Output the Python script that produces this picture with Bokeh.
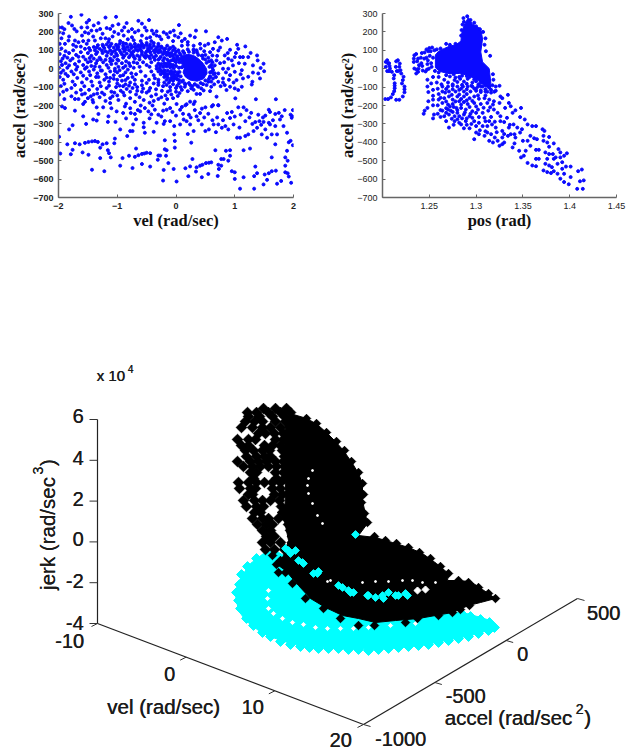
from bokeh.plotting import figure
from bokeh.layouts import column, row
from bokeh.models import Range1d, FixedTicker
from bokeh.core.properties import value
from bokeh.embed import file_html
from bokeh.resources import INLINE

# ---- panel 1: (vel, accel)
upper_sparse = [(-1.79,282),(-1.61,293),(-1.83,248),(-1.99,224),(-1.94,224),(-1.99,198),(-1.92,192),(-1.73,216),(-1.69,203),(-1.61,224),
 (-1.52,251),(-1.48,264),(-1.55,198),(-1.49,192),(-1.51,224),(-1.44,207),(-1.35,207),(-1.32,248),(-1.29,216),(-1.20,278),(-1.18,221),
 (-1.12,216),(-1.08,233),(-1.02,282),(-0.98,242),(-0.84,248),(-0.92,207),(-0.81,203),(-0.70,198),(-0.64,260),(-0.64,207),(-0.53,224),
 (-0.46,264),(-0.50,207),(-0.41,207),(-0.33,203),(-0.33,180),(-0.21,198),(-0.10,198),(-0.04,207),(-1.82,175),(-1.83,153),(-1.89,135),
 (-1.72,153),(-1.66,144),(-1.49,153),(-1.38,153),(-1.41,175),(-1.08,175),(-0.98,189),(-0.89,180),(-0.75,171),(-0.58,180),(-0.44,171),
 (-0.13,171),(-0.25,160),(-0.05,150),(0.05,237),(0.34,207),(0.51,203),(0.08,192),(0.04,171),(0.15,162),(0.24,180),(0.32,171),(-0.72,155),
 (-0.95,150),(-1.2,165),(-1.6,180),(-1.95,165),(-0.42,150),(-0.6,150),(-1.75,130),(-1.9,215),(-1.77,235),(-1.4,235),(-1.25,190),(-1.05,200),
 (-0.88,225),(-0.75,215),(-0.58,245),(-0.38,190),(-0.28,175),(-0.16,188),(-0.02,180),(0.1,150),(0.2,145),(-1.58,150),(-1.28,165),(-1.14,160),
 (-0.82,160),(-0.5,165),(-1.98,135),(-1.7,120),(-1.52,135),(-1.62,120)]
right_cloud = [(0.72,171),(0.87,162),(1.04,130),(1.18,121),(1.27,86),(1.38,72),(1.39,45),(1.49,27),(1.44,4),(1.50,-14),(1.40,-26),(1.43,-53),
 (1.31,-21),(1.30,-71),(1.29,-86),(1.12,-98),(1.06,-116),(1.0,-107),(0.86,-116),(1.01,-161),(1.36,-166),(1.70,-166),(0.69,-152),(0.63,-198),
 (0.72,-198),(0.41,-137),(0.35,-137),(0.24,-179),(0.32,-179),(0.18,-193),(0.55,135),(0.66,144),(0.78,153),(0.92,103),(1.06,108),(1.14,63),
 (1.23,63),(1.31,18),(1.17,27),(1.09,63),(1.0,63),(0.97,18),(0.89,54),(0.83,72),(0.72,99),(0.63,108),(0.58,90),(0.69,45),(0.80,0),(0.89,0),
 (1.0,-17),(1.12,-8),(1.23,-44),(1.14,-53),(1.03,-62),(0.92,-35),(0.80,-53),(0.72,-71),(0.63,-8),(0.63,-53),(0.72,-26),(0.83,-89),(0.92,-98),
 (0.60,-98),(0.52,-89),(0.43,-107),(0.38,-98),(0.26,-107),(0.15,-98),(0.58,-44),(0.55,-71),(0.66,18),(0.60,45),(0.49,126),(0.41,135),
 (0.3,125),(0.2,130),(0.1,125),(0.75,30),(0.95,45),(1.1,-30),(0.98,-75),(0.85,-20),(0.7,70),(0.6,20),(0.65,-85),(0.8,-75),(0.48,95),(0.55,60),
 (0.75,115),(0.88,85),(1.02,85),(0.82,35),(0.9,-60),(1.07,30),(0.68,-45),(0.76,-95),(0.47,-118),(0.58,-122),(0.3,-115),(0.2,-122),(0.1,-115),
 (0.06,-132),(0.0,-125),(-0.1,-118),(0.42,110),(0.35,100),(0.3,105),(0.44,70),(0.5,75),(0.62,72),(0.58,-20),(0.6,-70),(0.66,-25),(0.62,35)]
top_arc = [(-1.55,108),(-1.48,112),(-1.4,118),(-1.33,128),(-1.25,130),(-1.18,132),(-1.1,135),(-1.02,130),(-0.96,135),(-0.9,125),(-0.85,135),
 (-0.78,132),(-0.7,135),(-0.64,128),(-0.58,135),(-0.5,128),(-0.44,132),(-0.38,125),(-0.3,122),(-0.24,115),(-0.18,110),(-0.12,105),(-0.05,100),
 (0.0,92),(-1.38,100),(-1.3,108),(-1.22,112),(-1.14,118),(-1.06,115),(-0.98,118),(-0.9,110),(-0.82,118),(-0.76,112),(-0.7,118),(-0.62,110),
 (-0.55,115),(-0.48,110),(-0.42,112),(-0.35,105),(-0.28,105),(-0.2,95),(-0.14,90),(-0.08,85),(-0.02,78),(-1.2,95),(-1.12,100),(-1.04,98),
 (-0.96,100),(-0.88,95),(-0.8,100),(-0.72,95),(-0.65,98),(-0.58,92),(-0.5,95),(-0.44,90),(-0.36,88),(-0.3,88),(-0.22,80),(-0.16,75),(-0.1,68),
 (-0.04,60),(-1.1,80),(-1.02,82),(-0.92,78),(-0.84,82),(-0.74,78),(-0.66,72),(-0.58,78),(-0.5,72),(-0.42,75),(-0.34,70),(-0.26,65),(-0.2,58),
 (-0.9,60),(-0.8,62),(-0.7,55),(-0.62,50),(-0.52,60),(-0.44,55),(-0.36,48),(-0.3,50),(-0.15,50),(-0.08,45),(0.0,35),(-0.25,120),(-0.15,125),(-0.05,120),
 (-0.6,122),(-0.9,140),(-1.15,145),(-0.5,140),(-0.38,140),(-0.3,135),(-1.46,100),(-1.34,90),(-1.26,98),(-1.16,88),(-1.08,92),(-1.0,108),(-0.94,88),
 (-0.86,105),(-0.76,88),(-0.68,105),(-0.6,102),(-0.52,85),(-0.46,100),(-0.38,97),(-0.32,98),(-0.26,92),(-0.18,88),(-0.12,80),(-0.06,72),(0.02,68),
 (-0.02,110),(0.04,100),(0.06,85),(-0.1,112),(-0.2,105),(-0.33,115),(-0.45,120),(-0.55,125),(-0.66,120),(-0.75,122),(-0.88,115),(-1.0,122),(-1.12,125),
 (-1.24,122),(-1.35,115),(-0.72,65),(-0.62,65),(-0.54,68),(-0.46,65),(-0.38,62),(-0.28,55),(-0.22,45),(-0.12,40),(-0.05,48),(-1.0,72),(-0.88,70),(-0.78,72)]
left_cloud = [(-1.95,110),(-1.88,95),(-1.98,80),(-1.9,70),(-1.82,85),(-1.75,100),(-1.7,75),(-1.62,90),(-1.58,65),(-1.5,85),(-1.44,70),(-1.36,80),
 (-1.3,60),(-1.25,85),(-1.18,70),(-1.12,55),(-1.05,65),(-0.98,45),(-0.92,30),(-0.85,40),(-1.96,40),(-1.88,30),(-1.8,45),(-1.72,25),(-1.65,40),
 (-1.58,20),(-1.5,35),(-1.44,15),(-1.36,30),(-1.3,10),(-1.24,35),(-1.18,20),(-1.1,25),(-1.04,0),(-0.98,10),(-1.99,5),(-1.92,-10),(-1.85,5),
 (-1.78,-15),(-1.7,-5),(-1.62,-20),(-1.55,0),(-1.48,-15),(-1.4,-5),(-1.34,-25),(-1.26,-10),(-1.2,-30),(-1.12,-15),(-1.06,-35),(-1.0,-20),
 (-0.95,-40),(-1.98,-45),(-1.92,-60),(-1.84,-40),(-1.76,-70),(-1.68,-50),(-1.6,-75),(-1.52,-55),(-1.44,-70),(-1.36,-45),(-1.3,-75),(-1.22,-60),
 (-1.14,-70),(-1.06,-55),(-1.0,-80),(-0.92,-65),(-0.86,-85),(-0.78,-75),(-1.96,-95),(-1.86,-115),(-1.78,-105),(-1.7,-130),(-1.62,-115),(-1.55,-135),
 (-1.48,-115),(-1.4,-140),(-1.34,-110),(-1.26,-130),(-1.18,-105),(-1.1,-125),(-1.02,-100),(-0.94,-120),(-0.84,-110),(-0.74,-105),(-0.66,-100),
 (-1.99,-140),(-1.9,-165),(-1.78,-150),(-1.66,-165),(-1.55,-180),(-1.42,-170),(-1.3,-155),(-1.2,-175),(-1.08,-150),(-0.98,-170),(-0.88,-145),
 (-0.78,-160),(-0.68,-140),(-0.58,-125),(-0.5,-130),(-0.42,-150),(-0.34,-140),(-0.25,-155),(-0.15,-165),(-0.05,-160),(-0.7,-180),(-0.55,-170),
 (-0.38,-175),(-0.85,-190),(-1.45,-150),(-1.6,-140),(-1.05,-130),(-0.9,-95),(-1.45,40),(-1.28,50),(-1.12,40),(-1.4,55),(-1.0,50),(-0.9,5),(-0.86,-20),
 (-1.93,55),(-1.85,60),(-1.76,55),(-1.66,65),(-1.54,50),(-1.47,58),(-1.34,45),(-1.2,48),(-1.08,45),(-1.02,28),(-1.15,5),(-1.28,-10),(-1.38,12),(-1.52,8),
 (-1.68,10),(-1.82,18),(-1.94,20),(-1.96,-22),(-1.88,-28),(-1.74,-30),(-1.58,-38),(-1.46,-35),(-1.32,-45),(-1.18,-48),(-1.04,-12),(-0.96,-8),(-0.9,-35),
 (-0.82,-50),(-0.74,-45),(-0.7,-60),(-1.9,-82),(-1.72,-88),(-1.56,-95),(-1.42,-92),(-1.28,-95),(-1.14,-92),(-1.0,-60),(-1.12,-50),(-0.86,-62),(-0.96,-92),
 (-0.8,-92),(-0.7,-85),(-0.58,-90),(-0.5,-78),(-0.44,-105),(-0.34,-112),(-0.24,-120),(-0.14,-125),(-0.56,-108),(-0.66,-120),(-0.78,-125),(-0.9,-130),
 (-1.22,-140),(-1.34,-135),(-1.5,-160),(-1.72,-165),(-1.92,-125),(-1.12,-160),(-1.0,-145),(-0.62,-155),(-0.46,-120),(-0.3,-165),(-0.45,-185),(-0.18,-145),
 (-0.08,-140),(0.03,-148),(-0.72,35),(-0.78,15),(-0.82,-5),(-0.76,-25),(-0.68,-30),(-0.72,5),(-0.86,15),(-0.8,30)]
inner_ring = [(-0.66,30),(-0.62,10),(-0.6,-15),(-0.52,-40),(-0.5,20),(-0.46,-60),(-0.38,-80),(-0.3,-88),(-0.22,-95),(-0.1,-100),(0.0,-105),(-0.05,-85),
 (-0.12,-75),(-0.2,-75),(-0.56,35),(-0.42,35),(-0.45,10),(-0.42,-15),(-0.38,-35),(-0.3,-60),(-0.05,-65),(0.05,-80),(0.1,-70),(-0.58,-65),(-0.3,-75),(-0.16,-88),(-0.36,-52),(0.02,-92),(0.08,-100),(0.16,-85),(0.24,-88)]
inner_blob = [(-0.33,15),(-0.3,28),(-0.25,25),(-0.2,30),(-0.15,28),(-0.1,25),(-0.05,20),(0.0,15),(0.05,5),(-0.33,0),(-0.28,5),(-0.22,10),(-0.16,12),
 (-0.1,8),(-0.04,2),(-0.3,-15),(-0.25,-12),(-0.2,-8),(-0.14,-10),(-0.08,-12),(-0.02,-15),(0.03,-20),(-0.26,-30),(-0.2,-28),(-0.14,-30),(-0.08,-32),
 (-0.02,-35),(0.04,-38),(-0.2,-45),(-0.14,-48),(-0.08,-50),(-0.03,-55),(0.02,-58),(-0.1,-62),(-0.16,-60),(-0.27,18),(-0.18,20),(-0.12,18),(-0.07,12),
 (-0.27,-5),(-0.18,-20),(-0.1,-22),(-0.05,-24),(-0.23,-20),(-0.17,-38),(-0.05,-45),(0.0,-48)]
core_fuzz = [(0.02,62),(0.08,75),(0.14,85),(0.22,92),(0.3,88),(0.38,75),(0.46,55),(0.52,32),(0.57,10),(0.6,-18),(0.58,-42),(0.5,-64),(0.42,-78),(0.32,-84),(0.22,-78),
 (0.12,-64),(0.08,-42),(0.06,-18),(0.1,8),(0.06,35),(0.0,50),(-0.02,42),(0.04,48),(0.12,95),(0.2,105),(0.3,100),(0.36,88),(0.45,72),(0.5,50),(0.56,40),(0.62,5),(0.64,-30),(0.56,-55),(0.46,-84),(0.36,-92),
 (0.28,-95),(0.15,-80),(0.05,-62),(0.02,-30)]
core_outline_v = [0.05,0.12,0.2,0.3,0.38,0.46,0.52,0.53,0.47,0.36,0.24,0.16,0.12,0.14,0.1]
core_outline_a = [58,72,78,72,55,30,0,-25,-55,-68,-62,-45,-20,0,25]
lower_band = [(-1.94,-205),(-1.89,-214),(-1.72,-228),(-1.58,-192),(-1.41,-183),(-1.35,-210),(-1.24,-210),(-1.12,-187),(-1.01,-232),(-0.90,-241),
 (-0.87,-205),(-0.77,-241),(-0.70,-246),(-0.61,-232),(-0.53,-214),(-0.47,-232),(-0.36,-223),(-0.30,-250),(-0.16,-223),(-0.10,-214),(0.01,-192),
 (0.07,-223),(0.16,-199),(0.30,-192),(0.44,-217),(0.50,-210),(0.61,-205),(0.72,-199),(0.87,-241),(0.95,-235),(1.06,-210),(1.15,-210),(1.40,-250),
 (1.58,-223),(1.69,-246),(1.80,-259),(1.98,-259),(-1.82,-330),(-1.76,-307),(-1.58,-259),(-1.53,-300),(-1.41,-276),(-1.35,-282),(-1.32,-246),
 (-1.16,-289),(-1.15,-259),(-1.03,-289),(-0.95,-330),(-0.78,-339),(-0.73,-303),(-0.74,-339),(-0.55,-294),(-0.55,-318),(-0.53,-348),(-0.38,-343),
 (-0.33,-294),(-0.21,-300),(-0.19,-285),(-0.10,-285),(-0.03,-312),(-0.03,-357),(0.07,-303),(0.13,-276),(0.18,-285),(0.24,-303),(0.30,-339),
 (0.35,-259),(0.41,-241),(0.44,-303),(0.50,-339),(0.56,-330),(0.64,-303),(0.72,-303),(0.78,-321),(0.84,-312),(0.92,-268),(0.89,-330),(0.98,-303),
 (1.04,-375),(1.09,-375),(1.18,-285),(1.18,-366),(1.23,-357),(1.32,-339),(1.38,-321),(1.42,-285),(1.49,-289),(1.58,-294),(1.52,-330),(1.60,-303),
 (1.69,-312),(1.46,-357),(1.55,-375),(1.63,-357),(1.72,-357),(1.69,-411),(1.77,-276),(1.83,-312),(1.89,-348),(1.97,-267),(1.99,-225),(1.95,-250),
 (-0.85,-270),(-0.68,-275),(-0.45,-270),(-0.25,-260),(0.0,-255),(0.22,-250),(0.55,-245),(0.7,-265),(1.25,-265),(1.3,-300),(1.52,-255),(1.6,-235),
 (-1.1,-215),(-0.78,-215),(-0.6,-200),(-0.4,-200),(-0.2,-190),(0.12,-245),(0.32,-225),(1.1,-250),(1.2,-225),(1.45,-305),(1.75,-240),(1.85,-225),
 (-0.65,-225),(-0.42,-248),(-0.22,-228),(-0.06,-235),(0.1,-208),(0.25,-265),(0.38,-280),(0.48,-265),(0.62,-280),(0.8,-280),(1.0,-260),(1.28,-240),(1.48,-265),(1.65,-280),(1.35,-290),(1.08,-320),(0.68,-345),(0.2,-355)]
lower_sparse = [(-1.99,-370),(-1.97,-461),(-1.85,-411),(-1.79,-465),(-1.76,-441),(-1.72,-405),(-1.64,-411),(-1.59,-455),(-1.55,-403),(-1.49,-398),
 (-1.49,-468),(-1.43,-395),(-1.38,-393),(-1.33,-398),(-1.29,-429),(-1.29,-486),(-1.25,-411),(-1.18,-405),(-1.16,-443),(-1.14,-459),(-1.11,-482),
 (-1.43,-549),(-1.22,-557),(-1.05,-405),(-1.04,-380),(-0.83,-366),(-0.95,-527),(-0.91,-486),(-0.80,-473),(-0.74,-540),(-0.70,-479),(-0.68,-434),
 (-0.64,-470),(-0.58,-463),(-0.54,-461),(-0.50,-457),(-0.44,-459),(-0.58,-518),(-0.44,-532),(-0.30,-472),(-0.27,-472),(-0.31,-495),(-0.19,-389),
 (-0.19,-438),(-0.16,-443),(-0.17,-473),(-0.13,-513),(-0.21,-550),(-0.04,-545),(-0.22,-608),(0.01,-613),(-0.02,-393),(-0.02,-429),(0.26,-402),
 (0.28,-491),(0.16,-541),(0.24,-531),(0.21,-584),(0.35,-536),(0.34,-559),(0.41,-527),(0.45,-522),(0.51,-513),(0.56,-511),(0.60,-509),(0.55,-572),
 (0.44,-590),(0.67,-443),(0.72,-522),(0.77,-527),(0.73,-545),(0.71,-583),(0.77,-491),(0.81,-491),(0.85,-446),(0.92,-443),(0.92,-473),(0.89,-500),
 (0.95,-557),(1.0,-563),(1.0,-599),(1.09,-652),(1.15,-590),(1.15,-443),(1.26,-434),(1.35,-532),(1.38,-568),(1.33,-584),(1.33,-652),(1.51,-575),
 (1.49,-629),(1.55,-604),(1.58,-568),(1.63,-557),(1.70,-554),(1.72,-625),(1.79,-610),(1.63,-482),(1.86,-482),(1.89,-446),(1.86,-527),(1.86,-563),
 (1.90,-568),(1.92,-586),(1.96,-620),(1.90,-500),(1.92,-400),(1.95,-392),(1.99,-416)]

# ---- panel 2: (pos, accel)
loops = [(1.203,-165),(1.206,-165),(1.209,-156),(1.211,-138),(1.213,-106),(1.213,-79),(1.212,-53),(1.210,-17),(1.208,1),(1.206,28),(1.205,46),(1.2035,37),
 (1.2035,10),(1.205,-13),(1.207,-13),(1.207,30),(1.2125,-35),(1.213,-92),(1.2125,-122),(1.2075,15),
 (1.2146,-169),(1.218,-169),(1.2217,-151),(1.2235,-128),(1.2235,-97),(1.2217,-62),(1.22,-26),(1.218,10),(1.2164,46),(1.2146,40),(1.2142,10),(1.2153,-13),(1.217,-13),
 (1.2185,28),(1.2225,-44),(1.2208,-80),(1.2235,-112),(1.2192,-8),
 (1.234,73),(1.236,80),(1.238,55),(1.239,19),(1.238,-17),(1.236,-26),(1.234,1),(1.2334,37),(1.2365,-5),(1.237,40),(1.2335,55),(1.2385,0),
 (1.242,85),(1.245,88),(1.247,60),(1.248,25),(1.246,-15),(1.243,-10),(1.2415,30),(1.241,60),(1.250,112),(1.253,115),(1.2505,70),(1.252,30),(1.2495,0),
 (1.2555,100),(1.258,105),(1.262,110),(1.268,135),(1.272,130),(1.278,135),(1.2425,15),(1.2445,55),(1.2475,-5),(1.249,95),(1.2515,95),(1.247,105),(1.2485,45),(1.2525,10),(1.254,60),(1.256,-12),(1.26,-20)]
dense_pos = [1.2565,1.2600,1.266,1.2714,1.2785,1.2838,1.2845,1.287,1.2916,1.296,1.305,1.3069,1.305,1.3069,1.314,1.3158,1.315,1.3105,1.3015,1.291,1.282,1.2696,1.2615,1.2565]
dense_acc = [75,95,110,122,130,150,190,234,278,243,216,162,91,37,1,-79,-115,-97,-62,-35,-26,-26,-15,5]
top_lobe = [(1.2845,210),(1.284,180),(1.2855,240),(1.287,255),(1.2865,275),(1.2905,285),(1.294,265),(1.298,250),(1.3,230),(1.304,215),(1.3075,200),(1.31,165),
 (1.309,130),(1.3105,95),(1.315,70),(1.3185,-60),(1.3175,-90),(1.3195,-125),(1.316,-130),(1.312,-125),(1.3025,-85),(1.307,-75),(1.3,-50),(1.318,-30)]
gap_points = [(1.26,-45),(1.266,-60),(1.272,-42),(1.277,-62),(1.282,-45),(1.287,-70),(1.291,-55),(1.296,-75),(1.3,-68),(1.305,-95),(1.254,-45),(1.248,-60),
 (1.252,-80),(1.258,-75),(1.263,-85),(1.27,-75),(1.275,-85),(1.28,-72),(1.285,-88),(1.29,-82),(1.295,-92),(1.3,-108),(1.305,-118),(1.31,-112),(1.283,-55),(1.293,-45),(1.268,-35),(1.276,-30),
 (1.285,-38),(1.278,-48),(1.29,-40),(1.298,-58),(1.305,-75),(1.31,-90)]
lower_fan = [(1.248,-97),(1.254,-115),(1.259,-109),(1.264,-97),(1.27,-97),(1.275,-93),(1.28,-97),(1.286,-97),(1.291,-97),(1.296,-97),(1.302,-97),(1.307,-97),(1.314,-102),(1.321,-97),(1.325,-93),
 (1.249,-127),(1.254,-147),(1.26,-138),(1.264,-124),(1.271,-124),(1.278,-124),(1.282,-115),(1.287,-124),(1.294,-124),(1.3,-120),(1.305,-127),(1.31,-124),(1.316,-115),(1.321,-120),(1.326,-151),(1.334,-142),(1.328,-160),
 (1.254,-168),(1.249,-177),(1.26,-168),(1.266,-160),(1.271,-151),(1.275,-168),(1.28,-151),(1.287,-151),(1.293,-160),(1.298,-151),(1.303,-163),(1.309,-160),(1.314,-168),(1.319,-177),(1.325,-186),(1.335,-186),
 (1.254,-199),(1.248,-213),(1.245,-228),(1.244,-245),(1.259,-199),(1.264,-186),(1.27,-195),(1.275,-192),(1.282,-177),(1.287,-181),(1.291,-192),(1.298,-186),(1.305,-192),(1.312,-186),(1.318,-195),(1.331,-213),(1.337,-204),(1.342,-226),(1.348,-213),
 (1.254,-270),(1.255,-249),(1.259,-245),(1.264,-228),(1.27,-222),(1.273,-228),(1.279,-213),(1.284,-213),(1.289,-222),(1.296,-231),(1.302,-222),(1.307,-240),(1.313,-228),(1.319,-222),(1.326,-258),(1.333,-267),(1.339,-240),(1.347,-263),(1.352,-276),(1.355,-303),(1.36,-312),(1.364,-312),(1.371,-329),(1.373,-338),
 (1.266,-258),(1.271,-249),(1.277,-258),(1.282,-258),(1.287,-249),(1.293,-258),(1.296,-267),(1.303,-263),(1.309,-267),(1.314,-285),(1.32,-288),(1.326,-285),(1.34,-303),(1.344,-320),(1.349,-329),(1.347,-347),(1.341,-356),(1.342,-374),
 (1.271,-320),(1.277,-285),(1.282,-294),(1.287,-324),(1.293,-324),(1.284,-303),(1.289,-285),(1.3,-312),(1.303,-294),(1.307,-312),(1.312,-312),(1.317,-303),(1.321,-320),(1.328,-338),(1.335,-320),(1.334,-365),(1.328,-374),(1.337,-356),
 (1.298,-383),(1.3,-347),(1.303,-356),(1.309,-365),(1.312,-347),(1.316,-356),(1.32,-374),(1.314,-392),(1.318,-401),(1.323,-392),(1.325,-419),(1.328,-410),(1.33,-401),(1.339,-428),(1.341,-406),(1.346,-446),(1.35,-392),(1.355,-392),(1.353,-446),(1.358,-365),(1.362,-378),(1.365,-383),(1.372,-365),(1.378,-371),(1.372,-392),(1.376,-401),(1.383,-406),(1.378,-424),(1.358,-419),(1.364,-441),(1.367,-441),
 (1.348,-482),(1.351,-473),(1.355,-512),(1.36,-526),(1.364,-530),(1.364,-490),(1.367,-490),(1.374,-455),(1.378,-464),(1.382,-464),(1.385,-482),(1.376,-490),(1.383,-490),(1.388,-437),(1.39,-455),(1.397,-460),(1.394,-473),(1.39,-482),(1.374,-517),(1.378,-526),(1.381,-535),(1.387,-517),(1.392,-508),(1.396,-532),(1.401,-532),
 (1.372,-553),(1.376,-562),(1.38,-567),(1.383,-557),(1.387,-571),(1.392,-544),(1.394,-571),(1.401,-589),(1.39,-598),(1.394,-616),(1.399,-628),(1.413,-548),(1.409,-557),(1.415,-607),(1.411,-612),(1.408,-653),(1.414,-653),
 (1.262,-225),(1.268,-240),(1.275,-235),(1.28,-240),(1.285,-270),(1.29,-270),(1.295,-300),(1.276,-305),(1.268,-285),(1.262,-262),(1.3,-240),(1.31,-285),(1.316,-262),(1.323,-240),(1.33,-290),(1.336,-305),
 (1.267,-130),(1.274,-142),(1.282,-140),(1.29,-138),(1.296,-175),(1.302,-145),(1.31,-145),(1.284,-165),(1.29,-172),(1.278,-178),(1.268,-178),(1.262,-158),(1.3,-205),(1.293,-208),(1.284,-195),(1.276,-208),(1.308,-212),(1.315,-210),
 (1.268,-110),(1.275,-112),(1.284,-108),(1.29,-112),(1.298,-108),(1.272,-205),(1.28,-225),(1.288,-238),(1.294,-245),(1.268,-215),(1.274,-272),(1.28,-275),(1.29,-305),(1.298,-285),(1.304,-335),(1.31,-340),(1.322,-345),(1.33,-355)]

jerk_ticks = [6, 4, 2, 0, -2, -4]
vel_ticks = [-10, 0, 10, 20]
accel_ticks = [-1000, -500, 0, 500]
cyan_outline_x = [263,250,243,237,235,238,245,258,272,290,310,330,355,375,400,420,445,470,495,490,470,462,420,380,340,300,275]
cyan_outline_y = [553,563,573,585,595,610,620,630,637,643,646,648,648,649,647,645,640,635,628,620,614,612,610,605,590,565,550]
cyan_edge = [(256,558),(247,566),(241,574),(239,584),(236,592),(238,600),(240,608),(246,618),(253,625),(262,632),(270,636),(280,641),(290,644),(300,646),
 (309,647),(318,648),(328,648),(338,648),(348,649),(358,649),(368,650),(378,649),(388,648),(398,647),(408,646),(418,645),(428,644),(438,642),(448,640),
 (458,638),(468,636),(478,633),(488,630),(494,627),(489,622),(480,619),(470,616),(462,614)]
cyan_specks = [(268,590),(267,598),(268,608),(273,613),(282,618),(292,622),(303,624),(315,627),(327,628),(340,628),(353,628),(368,627),(390,625),(415,623)]
black_outline_x = [285,293,303,310,318,327,335,343,352,358,362,362,367,358,375,392,408,422,436,448,447,456,470,482,495,480,468,452,435,418,395,375,358,342,325,310,298,285,278,283,288,284,285,284]
black_outline_y = [418,414,417,420,425,433,441,450,463,473,483,500,523,535,537,542,547,553,563,573,580,580,581,589,598,602,605,612,615,618,620,622,618,615,607,598,585,570,565,555,540,520,490,450]
black_band_rows = {408:[263,275,286],412:[247,256,268,280,290],416:[248,259,272,284],421:[245,254,262,275,285],427:[241,252,262,270,280],433:[258,265,274,283],
 439:[237,248,255,275,283],445:[241,248,264,272,280],450:[245,253,262,269,282],456:[246,256,264,270,284],461:[237,250,258,266,275,283],466:[243,252,260,268,276,284],
 472:[250,256,275,283],478:[253,276,284],482:[238,248,256,264,272,280],488:[239,250,255,272,280],494:[248,252,274,282],500:[243,254,262,270,279],506:[246,256,263,281],
 512:[254,260,282,285],518:[252,262,268,278,286],524:[257,266,272,288],530:[262,270,290],536:[266,274,292],542:[262,270,280,292],549:[265,274,284,294]}
black_edge = [(340,618),(358,625),(374,625),(405,622),(417,618),(438,615),(460,609),(469,605),(452,612),(323,608),(305,598),(292,583),(278,572),(285,572),
 (306,418),(316,423),(326,432),(336,441),(344,450),(351,461),(358,472),(362,483),(363,494),(361,502),(364,513),(367,522),(374,536),(385,540),(396,543),(408,547),
 (419,552),(430,558),(440,566),(448,573),(458,580),(468,582),(478,587),(488,593),(495,598),(280,560),(272,555),(276,564)]
cyan_over_black = [(288,550),(295,550),(302,562),(313,573),(342,587),(353,592),(368,595),(382,595),(395,595),(405,593),(355,534),(290,553),(318,571),(348,590),(375,597),(388,592),
 (285,548),(298,560),(303,563),(317,573),(338,585),(350,592),(367,595),(383,598),(398,595),(407,595)]
white_specks = [(417,590),(425,589)]
white_seam = [(312,470),(308,478),(307,485),(308,493),(312,503),(317,515),(322,523),(362,582),(375,581),(388,581),(402,580),(412,580),(422,582),(435,582),(330,580),(327,581)]

BLUE = "#0a0aff"
INK = "#1c1c1c"

def xy(pairs):
    return [a for a, _ in pairs], [b for _, b in pairs]

def style(p, xticks, yticks, bold):
    for ax in (p.xaxis[0], p.yaxis[0]):
        ax.axis_line_color = "#666666"
        ax.axis_line_width = 1.5
        ax.major_tick_line_color = "#666666"
        ax.major_tick_in = 3
        ax.major_tick_out = 0
        ax.minor_tick_line_color = None
        ax.major_label_text_font = "Liberation Sans"
        ax.major_label_text_font_size = "9px"
        ax.major_label_text_font_style = bold
        ax.major_label_text_color = "#222222"
        ax.axis_label_text_font = "Liberation Serif"
        ax.axis_label_text_font_size = "16.5px"
        ax.axis_label_text_font_style = "bold"
        ax.axis_label_text_color = "#111111"
    p.xaxis[0].ticker = FixedTicker(ticks=xticks)
    p.yaxis[0].ticker = FixedTicker(ticks=yticks)
    p.xaxis[0].axis_label_standoff = -1
    p.xgrid.visible = False
    p.ygrid.visible = False
    p.outline_line_color = None
    p.background_fill_color = "white"
    p.border_fill_color = "white"

y_ticks = list(range(-700, 301, 100))

p1 = figure(width=320, height=240, output_backend="svg", toolbar_location=None,
            x_range=Range1d(-2, 2), y_range=Range1d(-700, 300),
            min_border_left=58, min_border_right=27, min_border_top=11, min_border_bottom=43)
style(p1, [-2, -1, 0, 1, 2], y_ticks, "bold")
p1.xaxis[0].axis_label = "vel (rad/sec)"
p1.yaxis[0].axis_label = "accel (rad/sec²)"
p1.yaxis[0].axis_label_standoff = 1
p1.patch(core_outline_v, core_outline_a, fill_color=BLUE, line_color=BLUE)
for group in (upper_sparse, right_cloud, top_arc, left_cloud, inner_ring, inner_blob, core_fuzz, lower_band, lower_sparse):
    xs, ys = xy(group)
    p1.scatter(xs, ys, marker="circle", size=3, color=BLUE)

p2 = figure(width=319, height=240, output_backend="svg", toolbar_location=None,
            x_range=Range1d(1.2, 1.45), y_range=Range1d(-700, 300),
            min_border_left=62, min_border_right=23, min_border_top=13, min_border_bottom=41)
style(p2, [1.2, 1.25, 1.3, 1.35, 1.4, 1.45], y_ticks, "normal")
p2.xaxis[0].major_label_overrides = {1.2: ""}
p2.xaxis[0].axis_label = "pos (rad)"
p2.yaxis[0].axis_label = "accel (rad/sec²)"
p2.yaxis[0].axis_label_standoff = -3
p2.patch(dense_pos, dense_acc, fill_color=BLUE, line_color=BLUE)
for group in (loops, top_lobe, gap_points, lower_fan):
    xs, ys = xy(group)
    p2.scatter(xs, ys, marker="circle", size=3, color=BLUE)

# The third panel's plane uses the same units as the picture's projected plane.
p3 = figure(width=639, height=509, output_backend="svg", toolbar_location=None,
            x_range=Range1d(0, 639), y_range=Range1d(749, 240),
            x_axis_type=None, y_axis_type=None,
            min_border_left=0, min_border_right=0, min_border_top=0, min_border_bottom=0)
p3.xgrid.visible = False
p3.ygrid.visible = False
p3.outline_line_color = None

def project(v, a, j):
    px = 97 + (v + 10) / 30 * 266 + (a + 1000) / 1500 * 214
    py = 623 + (v + 10) / 30 * 101 - (a + 1000) / 1500 * 126 - (j + 4) / 10 * 204
    return px, py

DIAMOND = dict(marker="square", angle=0.7854)
p3.patch(cyan_outline_x, cyan_outline_y, fill_color="#00ffff", line_color="#00ffff")
xs, ys = xy(cyan_edge)
p3.scatter(xs, ys, size=7, color="#00ffff", **DIAMOND)
xs, ys = xy(cyan_specks)
p3.scatter(xs, ys, size=3, color="white", **DIAMOND)
p3.patch(black_outline_x, black_outline_y, fill_color="black", line_color="black")
band_x = [x for r in black_band_rows.values() for x in r]
band_y = [y for y, r in black_band_rows.items() for _ in r]
p3.scatter(band_x, band_y, size=7.5, color="black", **DIAMOND)
xs, ys = xy(black_edge)
p3.scatter(xs, ys, size=6, color="black", **DIAMOND)
xs, ys = xy(cyan_over_black)
p3.scatter(xs, ys, size=5.5, color="#00ffff", **DIAMOND)
xs, ys = xy(white_specks)
p3.scatter(xs, ys, size=5, color="white", **DIAMOND)
xs, ys = xy(white_seam)
p3.scatter(xs, ys, marker="circle", size=2, color="white")

c0 = project(-10, -1000, -4)
c1 = project(20, -1000, -4)
c2 = project(20, 500, -4)
c3 = project(-10, -1000, 6)
p3.segment([c0[0], c0[0], c1[0]], [c0[1], c0[1], c1[1]],
           [c3[0], c1[0], c2[0]], [c3[1], c1[1], c2[1]], line_color="#222222", line_width=1.2)
for j in jerk_ticks:
    x, y = project(-10, -1000, j * 1.0)
    p3.segment([x], [y], [x - 8], [y], line_color="#333333", line_width=1)
for v in vel_ticks:
    x, y = project(v, -1000, -4)
    p3.segment([x], [y], [x - 6], [y + 3], line_color="#333333", line_width=1)
for a in accel_ticks:
    x, y = project(20, a, -4)
    p3.segment([x], [y], [x + 7], [y + 2], line_color="#333333", line_width=1)

FONT = value("Liberation Sans")
def label(x, y, s, size="20px", align="center", angle=0.0):
    for dx in (0, 0.4):
        p3.text([x + dx], [y], text=[s], text_font=FONT, text_font_size=size, text_color=INK,
                text_align=align, text_baseline="middle", angle=angle, text_font_style="normal")

jerk_label_y = {6: 415, 4: 457, 2: 498, 0: 538, -2: 580, -4: 622}
for j in jerk_ticks:
    label(83, jerk_label_y[j], str(j), align="right")
vel_label_pos = {-10: (69, 640), 0: (169, 673), 10: (252, 706), 20: (340, 739)}
for v in vel_ticks:
    lx, ly = vel_label_pos[v]
    label(lx, ly, str(v))
accel_label_pos = {-1000: (400, 738), -500: (465, 695), 0: (522, 653), 500: (603, 612)}
for a in accel_ticks:
    lx, ly = accel_label_pos[a]
    label(lx, ly, str(a))
label(163, 706, "vel (rad/sec)", size="20.5px")
label(444, 717, "accel (rad/sec", size="20.5px", align="left")
label(579, 708, "2", size="14px")
label(587, 717, ")", size="20.5px")
label(47, 533, "jerk (rad/sec", size="20.5px", angle=1.5708)
label(37, 470, "3", size="14px", angle=1.5708)
label(47, 462, ")", size="20.5px", angle=1.5708)
label(96, 375, "x 10", size="15px", align="left")
label(130, 368, "4", size="10px")

page = column(row(p1, p2), p3, spacing=0)
open("out.html", "w").write(file_html(page, INLINE))
